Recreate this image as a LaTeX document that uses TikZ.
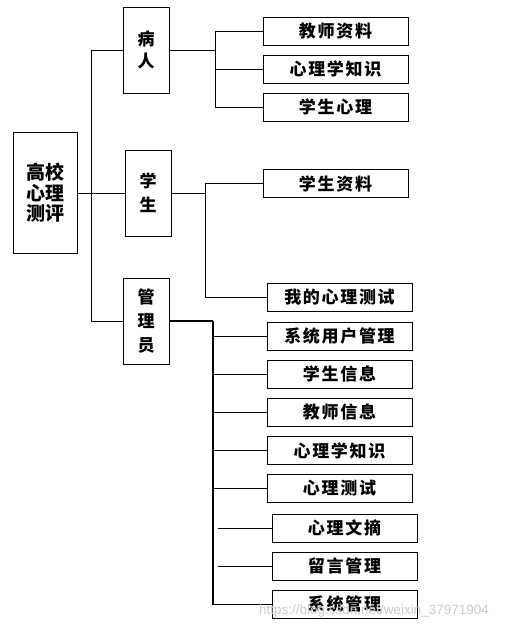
\documentclass[tikz,border=0pt]{standalone}
\usepackage{fontspec}
\newfontfamily\cjk[LetterSpace=10]{Noto Sans CJK SC}
\newfontfamily\cjkv{Noto Sans CJK SC}
\setsansfont{Liberation Sans}
\begin{document}
\begin{tikzpicture}[x=1pt,y=-1pt,
  box/.style={draw=black,line width=0.9pt,inner sep=0pt,minimum width=145pt,minimum height=28pt,font=\cjk\bfseries\fontsize{17}{18}\selectfont},
  vbox/.style={draw=black,line width=0.9pt,inner sep=0pt,minimum width=46pt,minimum height=86pt,align=center,font=\cjkv\bfseries\fontsize{17}{24}\selectfont},
  link/.style={line width=0.8pt,black}]
\useasboundingbox (0,0) rectangle (519,628);
\fill[white] (0,0) rectangle (519,628);
% main
\node[draw=black,line width=0.9pt,inner sep=0pt,minimum width=64pt,minimum height=121pt,align=center,font=\cjkv\bfseries\fontsize{19}{20.5}\selectfont] (main) at (45,193) {高校\\心理\\测评};
% level 2
\node[vbox,font=\cjkv\bfseries\fontsize{17}{21.5}\selectfont] (bingren) at (146,50) {病\\人};
\node[vbox] (xuesheng) at (148,193) {学\\生};
\node[vbox] (guanli) at (146,321) {管\\理\\员};
% level 3
\node[box] (p1) at (335.5,31) {教师资料};
\node[box] (p2) at (335.5,69) {心理学知识};
\node[box] (p3) at (335.5,107) {学生心理};
\node[box] (s1) at (335.5,183.5) {学生资料};
\node[box] (s2) at (339.5,297.5) {我的心理测试};
\node[box] (a1) at (339.5,336) {系统用户管理};
\node[box] (a2) at (339.5,374) {学生信息};
\node[box] (a3) at (339.5,412) {教师信息};
\node[box] (a4) at (339.5,450.5) {心理学知识};
\node[box] (a5) at (339.5,488.5) {心理测试};
\node[box] (a6) at (344.5,528) {心理文摘};
\node[box] (a7) at (344.5,566) {留言管理};
\node[box] (a8) at (344.5,604.5) {系统管理};
% trunk
\coordinate (t1) at (91,50);
\coordinate (t3) at (91,321);
\draw[link] (t1) -- (t3);
\draw[link] (t1) -- (bingren.west);
\draw[link] (main.east) -- (xuesheng.west);
\draw[link] (t3) -- (guanli.west);
% bingren branch
\coordinate (bj) at (215,50);
\coordinate (bt) at (215,31);
\coordinate (bb) at (215,107);
\draw[link] (bingren.east) -- (bj);
\draw[link] (bt) -- (bb);
\draw[link] (bt) -- (p1.west);
\draw[link] (bt |- p2.west) -- (p2.west);
\draw[link] (bb) -- (p3.west);
% xuesheng branch
\coordinate (sj) at (205,193);
\coordinate (st) at (205,183.5);
\coordinate (sb) at (205,297.5);
\draw[link] (xuesheng.east) -- (sj);
\draw[link] (st) -- (sb);
\draw[link] (st) -- (s1.west);
\draw[link] (sb) -- (s2.west);
% guanli branch
\coordinate (gj) at (213,321);
\coordinate (gb) at (213,604.5);
\draw[link,line width=1.1pt] (guanli.east) -- (gj);
\draw[link,line width=1.1pt] (gj) -- (gb);
\foreach \n in {a1,a2,a3,a4,a5,a8}{
  \draw[link] (gb |- \n.west) -- (\n.west);
}
\coordinate (f6) at (218,528);
\coordinate (f7) at (218,566);
\draw[link] (f6) -- (a6.west);
\draw[link] (f7) -- (a7.west);
% watermark
\node[text=gray!40,font=\sffamily\fontsize{13.5}{15}\selectfont,inner sep=0pt] (wm) at (374,611) {https://blog.csdn.net/weixin\_37971904};
\end{tikzpicture}
\end{document}
